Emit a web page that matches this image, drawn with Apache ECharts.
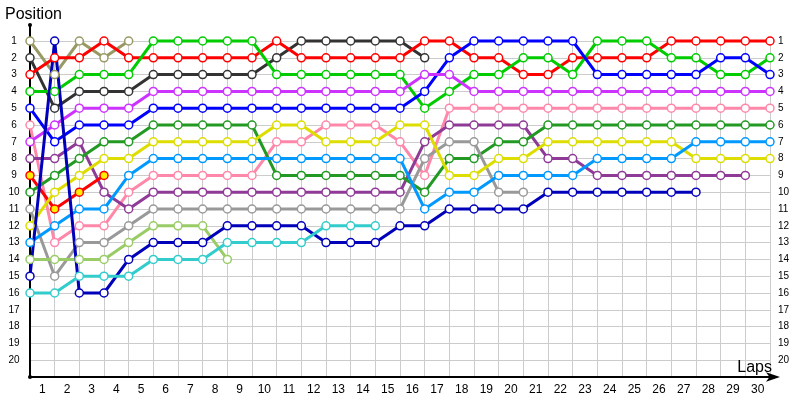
<!DOCTYPE html>
<html>
<head>
<meta charset="utf-8">
<script src="https://cdn.jsdelivr.net/npm/echarts@6/dist/echarts.min.js"></script>
<style>
  html, body { margin: 0; padding: 0; background: #fff; }
  #chart { width: 800px; height: 400px; }
</style>
</head>
<body>
<div id="chart"></div>
<script>
// lap labels 1..30
const lapLabels = Array.from({ length: 30 }, (_, i) => String(i + 1))

// position per lap, index = lap (0 = grid)
const olive = [1, 3, 1, 2, 1]
const darkGray = [2, 5, 4, 4, 4, 3, 3, 3, 3, 3, 2, 1, 1, 1, 1, 1, 2]
const red = [3, 2, 2, 1, 2, 2, 2, 2, 2, 2, 1, 2, 2, 2, 2, 2, 1, 1, 2, 2, 3, 3, 2, 2, 2, 2, 1, 1, 1, 1, 1]
const green = [4, 4, 3, 3, 3, 1, 1, 1, 1, 1, 3, 3, 3, 3, 3, 3, 5, 4, 3, 3, 2, 2, 3, 1, 1, 1, 2, 2, 3, 3, 2]
const blue = [5, 7, 6, 6, 6, 5, 5, 5, 5, 5, 5, 5, 5, 5, 5, 5, 4, 2, 1, 1, 1, 1, 1, 3, 3, 3, 3, 3, 2, 2, 3]
const pink = [6, 13, 12, 12, 10, 9, 9, 9, 9, 9, 7, 7, 6, 6, 6, 7, 9, 5, 5, 5, 5, 5, 5, 5, 5, 5, 5, 5, 5, 5, 5]
const violet = [7, 6, 5, 5, 5, 4, 4, 4, 4, 4, 4, 4, 4, 4, 4, 4, 3, 3, 4, 4, 4, 4, 4, 4, 4, 4, 4, 4, 4, 4, 4]
const purple = [8, 8, 7, 10, 11, 10, 10, 10, 10, 10, 10, 10, 10, 10, 10, 10, 7, 6, 6, 6, 6, 8, 8, 9, 9, 9, 9, 9, 9, 9]
const redYellow = [9, 11, 10, 9]
const darkGreen = [10, 9, 8, 7, 7, 6, 6, 6, 6, 6, 9, 9, 9, 9, 9, 9, 10, 8, 8, 7, 7, 6, 6, 6, 6, 6, 6, 6, 6, 6, 6]
const gray = [11, 15, 13, 13, 12, 11, 11, 11, 11, 11, 11, 11, 11, 11, 11, 11, 8, 7, 7, 10, 10]
const yellow = [12, 10, 9, 8, 8, 7, 7, 7, 7, 7, 6, 6, 7, 7, 7, 6, 6, 9, 9, 8, 8, 7, 7, 7, 7, 7, 7, 8, 8, 8, 8]
const lightBlue = [13, 12, 11, 11, 9, 8, 8, 8, 8, 8, 8, 8, 8, 8, 8, 8, 11, 10, 10, 9, 9, 9, 9, 8, 8, 8, 8, 7, 7, 7, 7]
const yellowGreen = [14, 14, 14, 14, 13, 12, 12, 12, 14]
const navy = [15, 1, 16, 16, 14, 13, 13, 13, 12, 12, 12, 12, 13, 13, 13, 12, 12, 11, 11, 11, 11, 10, 10, 10, 10, 10, 10, 10]
const turquoise = [16, 16, 15, 15, 15, 14, 14, 14, 13, 13, 13, 13, 12, 12, 12]

const drivers = [
  { data: olive, color: '#999966' },
  { data: darkGray, color: '#333333' },
  { data: red, color: '#ff0000' },
  { data: green, color: '#00cc00' },
  { data: blue, color: '#0000ff' },
  { data: pink, color: '#ff88aa' },
  { data: violet, color: '#cc33ff' },
  { data: purple, color: '#8e3a96' },
  { data: redYellow, color: '#ff0000', fill: '#ffee00' },
  { data: darkGreen, color: '#229922' },
  { data: gray, color: '#999999' },
  { data: yellow, color: '#dddd00' },
  { data: lightBlue, color: '#0099ff' },
  { data: yellowGreen, color: '#99cc66' },
  { data: navy, color: '#0000bb' },
  { data: turquoise, color: '#33cccc' },
]

const chart = echarts.init(document.getElementById('chart'))

const series = drivers.map((d) => ({
  type: 'line',
  xAxisIndex: 0,
  yAxisIndex: 0,
  data: d.data.map((p, lap) => [lap, p]),
  symbol: 'circle',
  symbolSize: 8,
  clip: false,
  animation: false,
  lineStyle: { color: d.color, width: 3 },
  itemStyle: { color: d.fill || '#fff', borderColor: d.color, borderWidth: 1.5 },
  emphasis: { disabled: true },
}))

chart.setOption({
  backgroundColor: '#fff',
  animation: false,
  textStyle: { fontFamily: 'Liberation Sans' },
  title: [
    {
      text: 'Position',
      left: 0,
      top: 2,
      textStyle: { fontSize: 16, fontWeight: 'normal', color: '#000', fontFamily: 'Liberation Sans' },
    },
    {
      text: 'Laps',
      right: 23,
      top: 355,
      textStyle: { fontSize: 16, fontWeight: 'normal', color: '#000', fontFamily: 'Liberation Sans' },
    },
  ],
  grid: { left: 30, right: 30, top: 41, bottom: 23 },
  xAxis: [
    {
      type: 'value',
      min: 0,
      max: 30,
      interval: 1,
      axisLine: {
        show: true,
        lineStyle: { color: '#000', width: 2 },
        symbol: ['none', 'arrow'],
        symbolSize: [7, 14],
        symbolOffset: [0, 10],
      },
      axisTick: { show: false },
      axisLabel: { show: false },
      splitLine: { show: true, lineStyle: { color: '#cccccc', width: 1 } },
    },
    {
      type: 'category',
      data: lapLabels,
      boundaryGap: true,
      position: 'bottom',
      axisLine: { show: false },
      axisTick: { show: false },
      splitLine: { show: false },
      axisLabel: { color: '#000', fontSize: 12, margin: 7, interval: 0 },
    },
  ],
  yAxis: [
    {
      type: 'value',
      inverse: true,
      min: 1,
      max: 21,
      interval: 1,
      axisLine: { show: true, lineStyle: { color: '#000', width: 2 } },
      axisTick: { show: false },
      axisLabel: {
        color: '#000',
        fontSize: 10,
        margin: 16,
        align: 'center',
        formatter: (v) => (v <= 20 ? String(v) : ''),
      },
      splitLine: { show: true, lineStyle: { color: '#cccccc', width: 1 } },
    },
    {
      type: 'value',
      inverse: true,
      min: 1,
      max: 21,
      interval: 1,
      position: 'right',
      axisLine: { show: false },
      axisTick: { show: false },
      axisLabel: {
        color: '#000',
        fontSize: 10,
        margin: 8,
        align: 'left',
        formatter: (v) => (v <= 20 ? String(v) : ''),
      },
      splitLine: { show: false },
    },
  ],
  graphic: [
    // axis stub above position 1 and end dots
    { type: 'line', shape: { x1: 30, y1: 25, x2: 30, y2: 41 }, style: { stroke: '#000', lineWidth: 2 } },
    { type: 'circle', shape: { cx: 30, cy: 25, r: 2 }, style: { fill: '#000' } },
    { type: 'circle', shape: { cx: 30, cy: 377, r: 2 }, style: { fill: '#000' } },
  ],
  series: series,
})
</script>
</body>
</html>
